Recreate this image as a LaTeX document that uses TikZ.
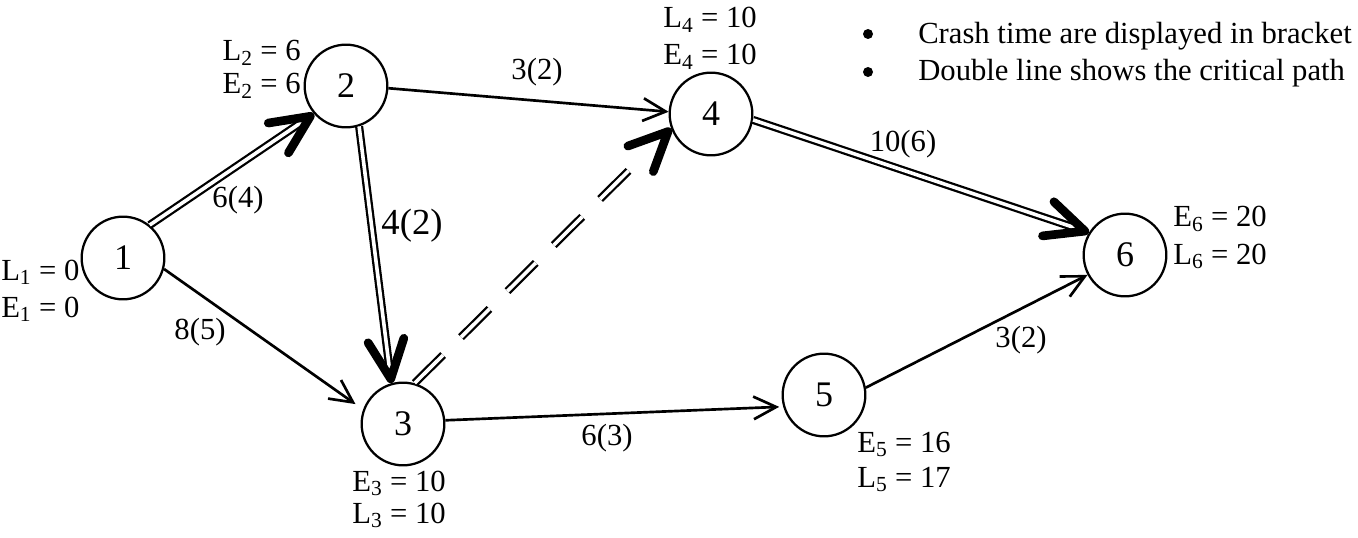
\documentclass[tikz,border=0pt]{standalone}
\usepackage{fontspec}
\setmainfont{Liberation Serif}
\usetikzlibrary{arrows.meta,calc}
\begin{document}
\begin{tikzpicture}[x=0.75pt,y=-0.75pt,
  ev/.style={circle,draw,line width=1.7pt,minimum size=62pt,inner sep=0pt,font=\fontsize{27}{27}\selectfont},
  lab/.style={inner sep=0pt,font=\fontsize{23}{23}\selectfont},
  bul/.style={circle,fill,inner sep=0pt,minimum size=7.5pt},
  big/.style={inner sep=0pt,font=\fontsize{27.5}{27.5}\selectfont},
  act/.style={line width=2pt,-{Straight Barb[length=17pt,width=17pt]}},
  crit/.style={double,line width=1.7pt,double distance=2.7pt,shorten >=8pt},
  head/.style={line width=6.5pt,dash pattern=on 0pt off 5000pt,-{Straight Barb[length=29pt,width=27pt,round]}},
  dum/.style={double,line width=1.7pt,double distance=2.7pt,dash pattern=on 30pt off 19pt,shorten >=30pt},
]
\useasboundingbox (0,0) rectangle (1358,538);

% events
\node[ev] (n1) at (123,258) {1};
\node[ev] (n2) at (346,86) {2};
\node[ev] (n3) at (403,424) {3};
\node[ev] (n4) at (711,114) {4};
\node[ev] (n5) at (824,395) {5};
\node[ev] (n6) at (1125,255) {6};

% event times
\node[lab,anchor=base west] (l1) at (1,280) {L\textsubscript{1} = 0};
\node[lab,anchor=base west] (e1) at (1,317) {E\textsubscript{1} = 0};
\node[lab,anchor=base east] (l2) at (301,61) {L\textsubscript{2} = 6};
\node[lab,anchor=base east] (e2) at (301,94) {E\textsubscript{2} = 6};
\node[lab,anchor=base west] (e3) at (352,491) {E\textsubscript{3} = 10};
\node[lab,anchor=base west] (l3) at (352,523) {L\textsubscript{3} = 10};
\node[lab,anchor=base west] (l4) at (663,28) {L\textsubscript{4} = 10};
\node[lab,anchor=base west] (e4) at (663,65) {E\textsubscript{4} = 10};
\node[lab,anchor=base west] (e5) at (857,452) {E\textsubscript{5} = 16};
\node[lab,anchor=base west] (l5) at (857,487) {L\textsubscript{5} = 17};
\node[lab,anchor=base west] (e6) at (1173,227) {E\textsubscript{6} = 20};
\node[lab,anchor=base west] (l6) at (1173,264) {L\textsubscript{6} = 20};

% legend
\node[bul] (b1) at (868,34) {};
\node[bul] (b2) at (868,72) {};
\node[lab,anchor=base west] (t1) at (918,44) {Crash time are displayed in bracket};
\node[lab,anchor=base west] (t2) at (918,81) {Double line shows the critical path};

% activities
\draw[crit] (n1.51) -- (n2.221);
\draw[head] (n1.51) -- (n2.221);
\draw[act,shorten >=7pt] (n1.345) -- (n3.160.5);
\draw[crit] (n2.288) -- (n3.106);
\draw[head] (n2.288) -- (n3.106);
\draw[act] (n2.357) -- (n4.177);
\draw[dum] (n3.74) -- (n4.200);
\draw[head] (n3.74) -- (n4.200);
\draw[act,shorten >=3pt] (n3.5) -- (n5.196);
\draw[crit] (n4.352) -- (n6.148);
\draw[head] (n4.352) -- (n6.148);
\draw[act] (n5.10.5) -- (n6.208);

% activity labels
\node[lab,anchor=base] (a12) at (238,208) {6(4)};
\node[lab,anchor=base] (a13) at (200,339) {8(5)};
\node[big,anchor=base] (a23) at (412,234) {4(2)};
\node[lab,anchor=base] (a24) at (537,80) {3(2)};
\node[lab,anchor=base] (a46) at (903,152) {10(6)};
\node[lab,anchor=base] (a35) at (607,445) {6(3)};
\node[lab,anchor=base] (a56) at (1021,347) {3(2)};
\end{tikzpicture}
\end{document}
